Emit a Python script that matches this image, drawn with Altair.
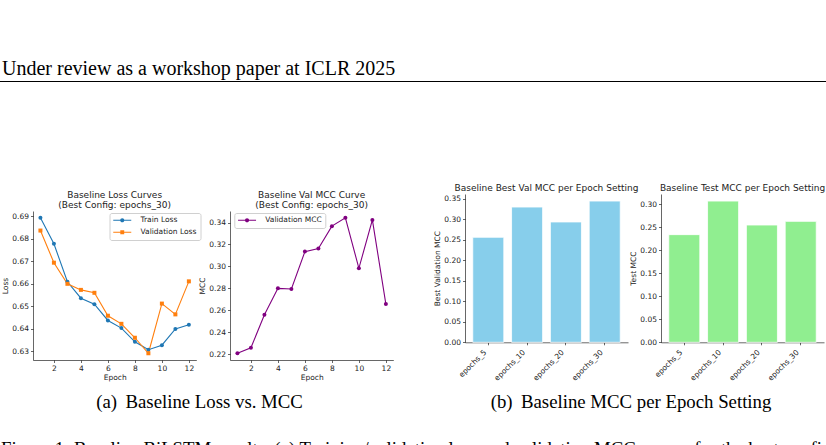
import altair as alt
import pandas as pd

# ---------------- data ----------------
epochs = [1, 2, 3, 4, 5, 6, 7, 8, 9, 10, 11, 12]
train_loss = [0.6894, 0.6778, 0.6609, 0.6536, 0.6509, 0.6437, 0.6403, 0.6342, 0.6307, 0.6327, 0.6399, 0.6418]
val_loss = [0.6837, 0.6694, 0.6600, 0.6573, 0.6560, 0.6458, 0.6422, 0.6360, 0.6291, 0.6512, 0.6464, 0.6611]
val_mcc = [0.2209, 0.2258, 0.2559, 0.2800, 0.2794, 0.3135, 0.3163, 0.3367, 0.3443, 0.2983, 0.3424, 0.2657]
settings = ["epochs_5", "epochs_10", "epochs_20", "epochs_30"]
best_val_mcc = [0.2561, 0.3298, 0.2934, 0.3444]
test_mcc = [0.2343, 0.3073, 0.2552, 0.2632]

loss_series = ["Train Loss", "Validation Loss"]
mcc_series = ["Validation MCC"]

epoch_ticks = [2, 4, 6, 8, 10, 12]
loss_ticks = [0.63, 0.64, 0.65, 0.66, 0.67, 0.68, 0.69]
mcc_ticks = [0.22, 0.24, 0.26, 0.28, 0.30, 0.32, 0.34]
best_ticks = [0.00, 0.05, 0.10, 0.15, 0.20, 0.25, 0.30, 0.35]
test_ticks = [0.00, 0.05, 0.10, 0.15, 0.20, 0.25, 0.30]

header_text = "Under review as a workshop paper at ICLR 2025"
title_loss = ["Baseline Loss Curves", "(Best Config: epochs_30)"]
title_mcc = ["Baseline Val MCC Curve", "(Best Config: epochs_30)"]
title_best = "Baseline Best Val MCC per Epoch Setting"
title_test = "Baseline Test MCC per Epoch Setting"
caption_a = "(a)\u2009 Baseline Loss vs. MCC"
caption_b = "(b)\u2009 Baseline MCC per Epoch Setting"
figure_caption = ("Figure 1: Baseline BiLSTM results. (a) Training/validation loss and "
                  "validation MCC curves for the best configuration; (b)")

# ---------------- style ----------------
SANS = "DejaVu Sans"
SERIF = "Liberation Serif"
BLUE = "#1f77b4"
ORANGE = "#ff7f0e"
PURPLE = "#800080"
SKY = "#87CEEB"
GREEN = "#90EE90"
TXT = "#222222"

CIRCLE_SYM = "M-3,-0.18H3V0.18H-3Z M-0.7,0A0.7,0.7 0 1,1 0.7,0A0.7,0.7 0 1,1 -0.7,0Z"
SQUARE_SYM = "M-3,-0.18H3V0.18H-3Z M-0.65,-0.65H0.65V0.65H-0.65Z"

W_LINE = 163.3
H_LINE = 166
W_BAR = 163
H_BAR = 148.3


def txt(text, x, y, size, font=SANS, align="center", color=TXT):
    return alt.Chart(pd.DataFrame({"t": [text]})).mark_text(
        font=font, fontSize=size, align=align, baseline="alphabetic", color=color
    ).encode(text="t:N", x=alt.value(x), y=alt.value(y))


def spacer(w):
    return alt.Chart(pd.DataFrame({"a": [0]})).mark_point(opacity=0).encode(
        x=alt.value(0), y=alt.value(0)
    ).properties(width=w, height=10)


def legend(x):
    return alt.Legend(
        title=None, orient="none", legendX=x, legendY=19, direction="vertical",
        padding=3.5, rowPadding=3, symbolSize=36, symbolOffset=5.5, labelOffset=14.5,
        symbolStrokeWidth=0, symbolOpacity=1,
        labelFont=SANS, labelFontSize=7.5, labelColor=TXT,
        fillColor="white", strokeColor="#d0d0d0", cornerRadius=2,
    )


# ---------------- panel 1 : loss curves ----------------
loss_df = pd.DataFrame({
    "epoch": epochs + epochs,
    "loss": train_loss + val_loss,
    "series": [loss_series[0]] * len(epochs) + [loss_series[1]] * len(epochs),
})

x_epoch = alt.X("epoch:Q", scale=alt.Scale(domain=[0.45, 12.55], nice=False, zero=False),
                axis=alt.Axis(values=epoch_ticks, format="d", title="Epoch", titlePadding=1))
y_loss = alt.Y("loss:Q", scale=alt.Scale(domain=[0.6261, 0.6924], nice=False, zero=False,
                                         range=[H_LINE, 17]),
               axis=alt.Axis(values=loss_ticks, format=".2f", title="Loss", titlePadding=2.5))

base1 = alt.Chart(loss_df).encode(x=x_epoch, y=y_loss)
tr = base1.transform_filter(alt.datum.series == loss_series[0])
va = base1.transform_filter(alt.datum.series == loss_series[1])
leg1 = base1.transform_filter("false").mark_point(filled=True, opacity=1).encode(
    shape=alt.Shape("series:N", scale=alt.Scale(domain=loss_series, range=[CIRCLE_SYM, SQUARE_SYM]),
                    legend=legend(76.5)),
    color=alt.Color("series:N", scale=alt.Scale(domain=loss_series, range=[BLUE, ORANGE]),
                    legend=legend(76.5)),
)
p1 = alt.layer(
    tr.mark_line(color=BLUE, strokeWidth=1.1),
    va.mark_line(color=ORANGE, strokeWidth=1.1),
    tr.mark_point(shape="circle", filled=True, size=16, color=BLUE, opacity=1),
    va.mark_point(shape="square", filled=True, size=16, color=ORANGE, opacity=1),
    leg1,
    txt(title_loss[0], W_LINE / 2, 4, 9),
    txt(title_loss[1], W_LINE / 2, 13.5, 9),
).properties(width=W_LINE, height=H_LINE)

# ---------------- panel 2 : MCC curve ----------------
mcc_df = pd.DataFrame({"epoch": epochs, "mcc": val_mcc, "series": mcc_series * len(epochs)})
y_mcc = alt.Y("mcc:Q", scale=alt.Scale(domain=[0.2147, 0.3505], nice=False, zero=False,
                                       range=[H_LINE, 17]),
              axis=alt.Axis(values=mcc_ticks, format=".2f", title="MCC", titlePadding=2.5))
base2 = alt.Chart(mcc_df).encode(x=x_epoch, y=y_mcc)
leg2 = base2.transform_filter("false").mark_point(filled=True, opacity=1).encode(
    shape=alt.Shape("series:N", scale=alt.Scale(domain=mcc_series, range=[CIRCLE_SYM]),
                    legend=legend(4.3)),
    color=alt.Color("series:N", scale=alt.Scale(domain=mcc_series, range=[PURPLE]),
                    legend=legend(4.3)),
)
p2 = alt.layer(
    base2.mark_line(color=PURPLE, strokeWidth=1.1),
    base2.mark_point(shape="circle", filled=True, size=16, color=PURPLE, opacity=1),
    leg2,
    txt(title_mcc[0], W_LINE / 2, 4, 9),
    txt(title_mcc[1], W_LINE / 2, 13.5, 9),
).properties(width=W_LINE, height=H_LINE)

# ---------------- panels 3, 4 : bars ----------------
bar_df = pd.DataFrame({"setting": settings, "best": best_val_mcc, "test": test_mcc})
x_set = alt.X("setting:N", sort=settings,
              scale=alt.Scale(paddingInner=0.2, paddingOuter=0.2),
              axis=alt.Axis(title=None, labelAngle=-45, labelAlign="right", labelBaseline="bottom",
                            labelPadding=9, labelOverlap=False, labelBound=False))

p3 = alt.layer(
    alt.Chart(bar_df).mark_bar(color=SKY, stroke="white", strokeWidth=0.8).encode(
        x=x_set,
        y=alt.Y("best:Q", scale=alt.Scale(domain=[0, 0.3616], nice=False),
                axis=alt.Axis(values=best_ticks, format=".2f", title="Best Validation MCC",
                              titlePadding=2.5)),
    ),
    txt(title_best, W_BAR / 2, -3.5, 9),
).properties(width=W_BAR, height=H_BAR)

p4 = alt.layer(
    alt.Chart(bar_df).mark_bar(color=GREEN, stroke="white", strokeWidth=0.8).encode(
        x=x_set,
        y=alt.Y("test:Q", scale=alt.Scale(domain=[0, 0.3227], nice=False),
                axis=alt.Axis(values=test_ticks, format=".2f", title="Test MCC",
                              titlePadding=2.5)),
    ),
    txt(title_test, W_BAR / 2, -3.5, 9),
).properties(width=W_BAR, height=H_BAR)

# ---------------- page text (header, captions) ----------------
page = alt.layer(
    txt(header_text, 2, -119, 20, font=SERIF, align="left", color="black"),
    alt.Chart(pd.DataFrame({"a": [0]})).mark_rule(color="black", strokeWidth=1).encode(
        x=alt.value(0), x2=alt.value(826), y=alt.value(-112.5)),
    txt(caption_a, 199.5, 214, 18.8, font=SERIF, color="black"),
    txt(caption_b, 631, 214, 18.8, font=SERIF, color="black"),
    txt(figure_caption, 1, 260.5, 18.8, font=SERIF, align="left", color="black"),
).properties(width=32.5, height=10)

chart = alt.hconcat(
    page, p1, spacer(32.6), p2, spacer(70.5), p3, spacer(32.5), p4,
    spacing=0, bounds="flush",
).resolve_scale(
    color="independent", shape="independent"
).resolve_legend(
    color="independent", shape="independent"
).properties(
    autosize=alt.AutoSizeParams(type="none"),
    padding={"left": 0, "top": 194, "right": 826, "bottom": 251},
).configure(background="white").configure_view(stroke=None).configure_axis(
    labelFont=SANS, labelFontSize=7.5, labelColor=TXT,
    titleFont=SANS, titleFontSize=7.5, titleFontWeight="normal", titleColor=TXT,
    domainColor="#000000", domainWidth=0.6, tickColor="#000000", tickWidth=0.6,
    tickSize=2.5, labelPadding=2, grid=False,
)

chart.save("out.html", embed_options={"renderer": "svg", "actions": False})
